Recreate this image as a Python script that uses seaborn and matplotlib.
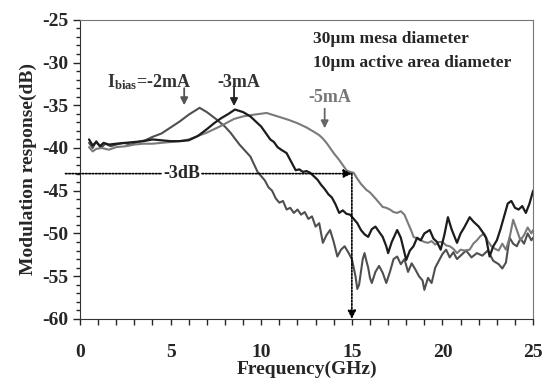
import numpy as np
import pandas as pd
import matplotlib
matplotlib.use("Agg")
import matplotlib.pyplot as plt
import seaborn as sns
from matplotlib.ticker import MultipleLocator

# ---- data ----
freq_2mA = [0.5, 0.7, 0.9, 1.0, 1.2, 1.4, 1.7, 2.0, 2.4, 2.8,
            3.2, 3.6, 4.0, 4.5, 5.0, 5.5, 6.0, 6.3, 6.6, 7.0,
            7.5, 8.0, 8.3, 8.8, 9.4,
            9.8, 10.0, 10.2, 10.4, 10.6, 10.8, 11.0, 11.2, 11.4, 11.6,
            11.8, 12.0, 12.2, 12.4, 12.6, 12.8, 13.0, 13.2, 13.4, 13.6,
            13.8, 14.0, 14.2, 14.4, 14.6, 14.8, 15.0, 15.1, 15.2, 15.3,
            15.4, 15.5, 15.6, 15.7, 15.8, 15.9, 16.0, 16.1, 16.3, 16.5,
            16.7, 16.9, 17.1, 17.3, 17.5, 17.7, 17.9, 18.1, 18.3, 18.5,
            18.7, 18.9, 19.0, 19.2, 19.4, 19.6, 19.8, 20.0, 20.2, 20.4,
            20.6, 20.8, 21.0, 21.3, 21.6, 21.9, 22.2, 22.5, 22.8, 23.1,
            23.3, 23.5, 23.7, 23.9, 24.1, 24.3, 24.5, 24.7, 24.9, 25.0]
resp_2mA = [-39.4, -40.0, -39.2, -39.5, -39.9, -39.5, -39.8, -39.6, -39.4, -39.6,
            -39.3, -39.1, -38.7, -38.3, -37.6, -36.9, -36.1, -35.7, -35.3, -35.8,
            -36.6, -37.5, -38.2, -39.6, -41.0,
            -42.8, -43.3, -43.8, -44.6, -45.0, -45.9, -46.4, -46.2, -47.2, -47.0,
            -47.6, -47.2, -47.8, -47.5, -48.3, -48.0, -49.2, -48.8, -51.1, -50.2,
            -49.6, -51.0, -52.7, -51.9, -51.5, -52.2, -53.0, -54.0, -55.0, -56.5,
            -56.0, -54.5, -53.0, -52.3, -53.2, -54.0, -55.2, -55.8, -54.5, -53.8,
            -54.6, -55.8, -54.5, -53.0, -52.7, -53.6, -53.0, -54.5, -53.5, -54.2,
            -55.0, -55.5, -56.6, -55.2, -55.8, -54.0, -53.2, -52.4, -51.9, -52.8,
            -52.2, -53.0, -52.6, -52.0, -52.8, -52.3, -52.6, -52.0, -53.2, -53.6,
            -54.1, -53.4, -50.5, -51.2, -51.5, -50.6, -51.2, -50.0, -50.8, -50.5]

freq_3mA = [0.5, 0.7, 0.9, 1.1, 1.3, 1.6, 2.0, 2.5, 3.0, 3.5,
            4.0, 4.5, 5.0, 5.5, 6.0, 6.5, 7.0, 7.4, 7.8, 8.2,
            8.55, 9.0,
            9.4, 9.7, 10.0, 10.3, 10.5, 10.7, 10.9, 11.1, 11.4, 11.6,
            11.9, 12.1, 12.3, 12.5, 12.7, 12.9, 13.1, 13.3, 13.5, 13.7,
            13.9, 14.1, 14.3, 14.5, 14.7, 14.9, 15.1, 15.3, 15.5, 15.7,
            15.9, 16.1, 16.3, 16.5, 16.7, 16.9, 17.0, 17.2, 17.5, 17.7,
            18.0, 18.2, 18.4, 18.6, 18.8, 19.0, 19.3, 19.5, 19.7, 19.9,
            20.1, 20.3, 20.5, 20.8, 21.0, 21.2, 21.5, 21.7, 22.0, 22.2,
            22.4, 22.6, 22.8, 23.0, 23.2, 23.4, 23.6, 23.8, 24.0, 24.2,
            24.4, 24.6, 24.8, 25.0]
resp_3mA = [-39.0, -39.7, -39.3, -39.8, -39.4, -39.6, -39.5, -39.4, -39.3, -39.2,
            -39.0, -39.1, -39.2, -39.2, -39.1, -38.6, -37.8, -37.1, -36.5, -36.0,
            -35.5, -35.8,
            -36.3, -36.9, -37.5, -38.4, -39.0, -39.3, -39.9, -40.2, -40.6, -41.4,
            -42.6, -42.5, -42.8, -42.7, -42.9, -43.3, -43.7, -44.3, -44.8, -45.4,
            -45.8, -46.6, -47.6, -47.3, -47.7, -47.8, -48.3, -48.8, -49.6, -50.1,
            -50.4, -49.5, -49.2, -49.8, -50.4, -51.5, -52.3, -51.0, -49.6, -50.5,
            -53.1, -52.0, -51.5, -50.5, -50.8, -50.0, -49.6, -50.6, -51.0, -51.9,
            -50.2, -48.1, -49.5, -51.1, -50.0, -49.3, -48.1, -48.6, -49.2, -49.8,
            -50.5, -52.7, -51.5, -50.8, -49.5, -48.0, -46.5, -46.2, -47.0, -47.2,
            -46.8, -47.6, -46.5, -45.0]

freq_5mA = [0.5, 0.7, 0.9, 1.2, 1.6, 2.0, 2.5, 3.0, 3.5, 4.0,
            4.5, 5.0, 5.5, 6.0, 6.5, 7.0, 7.7, 8.5, 9.0, 9.6,
            10.3, 10.9, 11.5, 12.0, 12.5,
            12.9, 13.2, 13.4, 13.6, 13.8, 14.0, 14.3, 14.5, 14.7, 14.9,
            15.1, 15.3, 15.5, 15.8, 16.0, 16.3, 16.5, 16.7, 16.9, 17.1,
            17.3, 17.5, 17.7, 17.9, 18.1, 18.3, 18.4, 18.6, 18.8, 19.0,
            19.2, 19.4, 19.6, 19.8, 20.0, 20.2, 20.4, 20.6, 20.8, 21.0,
            21.2, 21.5, 21.7, 21.9, 22.1, 22.3, 22.5, 22.7, 22.9, 23.1,
            23.3, 23.5, 23.7, 23.9, 24.1, 24.3, 24.5, 24.7, 24.9, 25.0]
resp_5mA = [-39.9, -40.4, -40.1, -40.0, -40.2, -39.9, -39.8, -39.6, -39.5, -39.5,
            -39.4, -39.3, -39.2, -39.0, -38.6, -38.2, -37.5, -36.6, -36.3, -36.1,
            -35.9, -36.3, -36.7, -37.1, -37.6,
            -38.1, -38.5, -38.9, -39.4, -40.0, -40.6, -41.4, -42.0, -42.6, -42.8,
            -42.9, -43.6, -44.2, -44.9, -45.2, -45.9, -46.4, -46.9, -47.0, -47.2,
            -47.5, -47.6, -47.4, -47.8, -48.8, -49.8, -50.4, -50.6, -50.8, -51.0,
            -51.1, -50.9, -51.3, -51.0, -51.0, -51.4, -51.5, -51.8, -52.3, -51.9,
            -52.0, -51.9, -51.2, -50.8, -50.3, -50.0, -50.9, -51.5, -51.8, -52.0,
            -51.2, -51.9, -50.5, -48.4, -49.6, -50.8, -50.2, -49.3, -50.0, -49.6]

level_3dB = -43
f_3dB = 15

# ---- style ----
sns.set_style("ticks")
plt.rcParams["font.family"] = ["Liberation Serif", "DejaVu Serif"]
plt.rcParams["font.weight"] = "bold"
plt.rcParams["axes.unicode_minus"] = False
plt.rcParams["mathtext.fontset"] = "custom"
plt.rcParams["mathtext.rm"] = "Liberation Serif:bold"
plt.rcParams["mathtext.bf"] = "Liberation Serif:bold"

fig = plt.figure(figsize=(5.44, 3.81), dpi=100)
ax = fig.add_axes([0.147, 0.163, 0.833, 0.785])

c2, c3, c5 = "#4f4f4f", "#1c1c1c", "#7a7a7a"
sns.lineplot(x=freq_2mA, y=resp_2mA, ax=ax, color=c2, lw=1.5, sort=False, estimator=None)
sns.lineplot(x=freq_5mA, y=resp_5mA, ax=ax, color=c5, lw=1.5, sort=False, estimator=None)
sns.lineplot(x=freq_3mA, y=resp_3mA, ax=ax, color=c3, lw=1.6, sort=False, estimator=None)

ax.set_xlim(0, 25)
ax.set_ylim(-60, -25)
ax.xaxis.set_major_locator(MultipleLocator(5))
ax.xaxis.set_minor_locator(MultipleLocator(1))
ax.yaxis.set_major_locator(MultipleLocator(5))
ax.yaxis.set_minor_locator(MultipleLocator(1))
ax.tick_params(axis="x", which="both", direction="out", length=4, width=1, pad=14, labelsize=14)
ax.tick_params(axis="y", which="major", direction="out", length=5, width=1, pad=3, labelsize=14)
ax.tick_params(axis="y", which="minor", direction="out", length=3, width=1)
for lab in ax.get_xticklabels() + ax.get_yticklabels():
    lab.set_fontweight("bold")
for side in ["top", "right"]:
    ax.spines[side].set_color("#777777")
for side in ["left", "bottom"]:
    ax.spines[side].set_color("#333333")

ax.set_xlabel("Frequency(GHz)", fontsize=14, fontweight="bold", labelpad=0)
ax.set_ylabel("Modulation response(dB)", fontsize=14, fontweight="bold", labelpad=4)

# -3dB guide lines
ax.annotate("", xy=(f_3dB, level_3dB), xytext=(-0.8, level_3dB), annotation_clip=False,
            arrowprops=dict(arrowstyle="-|>", linestyle=(0, (1, 1)), color="black", lw=1.2,
                            mutation_scale=12, shrinkA=0, shrinkB=0))
ax.annotate("", xy=(f_3dB, -60), xytext=(f_3dB, level_3dB),
            arrowprops=dict(arrowstyle="-|>", linestyle=(0, (1, 1)), color="black", lw=1.2,
                            mutation_scale=12, shrinkA=0, shrinkB=0))
ax.text(5.6, level_3dB, "-3dB", fontsize=13, fontweight="bold", ha="center", va="center",
        bbox=dict(facecolor="white", edgecolor="none", pad=1))

# curve labels
ax.text(1.5, -32.3, r"$\mathbf{I_{bias}}$=-2mA", fontsize=13, fontweight="bold", va="center",
        color="#333333")
ax.text(7.6, -32.3, "-3mA", fontsize=13, fontweight="bold", va="center", color="#333333")
ax.text(12.6, -34.1, "-5mA", fontsize=13, fontweight="bold", va="center", color="#777777")
arrow_kw = dict(arrowstyle="-|>", lw=1.3, mutation_scale=11, shrinkA=0, shrinkB=0)
ax.annotate("", xy=(5.75, -35.0), xytext=(5.75, -33.0),
            arrowprops=dict(color="#555555", **arrow_kw))
ax.annotate("", xy=(8.5, -35.1), xytext=(8.5, -32.9),
            arrowprops=dict(color="#222222", **arrow_kw))
ax.annotate("", xy=(13.5, -37.7), xytext=(13.5, -35.4),
            arrowprops=dict(color="#666666", **arrow_kw))

ax.text(12.85, -27.3, "30\u00b5m mesa diameter", fontsize=12.5, fontweight="bold", va="center")
ax.text(12.85, -30.0, "10\u00b5m active area diameter", fontsize=12.5, fontweight="bold",
        va="center")

fig.savefig("out.png", dpi=100)
